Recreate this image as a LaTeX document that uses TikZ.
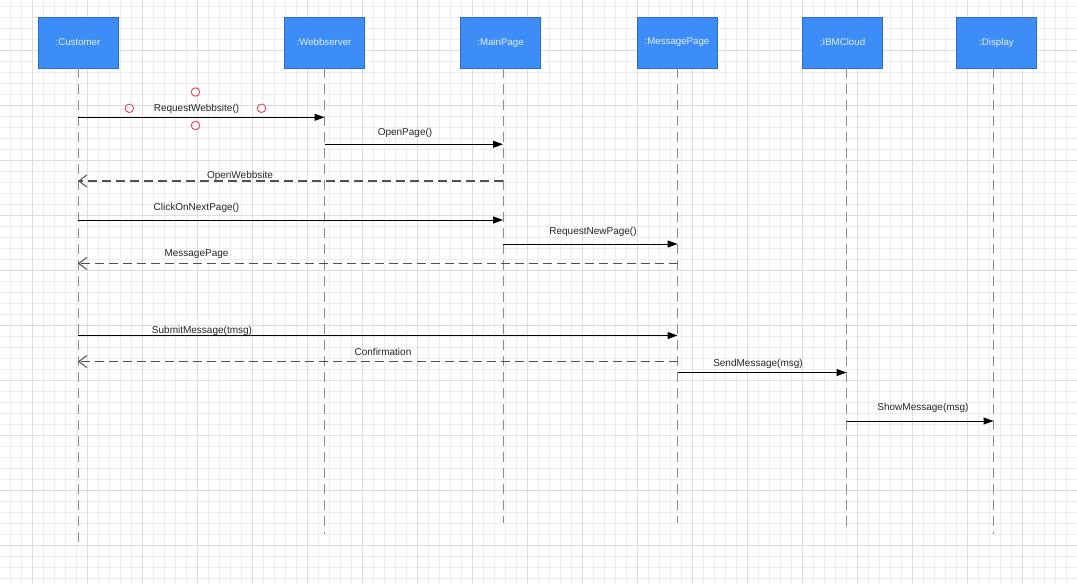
\documentclass[tikz,border=0pt]{standalone}
\usepackage{fontspec}
\setmainfont{Liberation Sans}
\usetikzlibrary{arrows.meta}
\definecolor{boxfill}{HTML}{3C8DF6}
\definecolor{boxedge}{HTML}{2B6BC8}
\definecolor{boxtext}{HTML}{E4EEFC}
\definecolor{gridminor}{HTML}{EDEDED}
\definecolor{gridmajor}{HTML}{DEDEDE}
\definecolor{lifegray}{HTML}{8C8C8C}
\definecolor{retgray}{HTML}{505050}
\definecolor{markred}{HTML}{F23D5A}
\tikzset{
  actor/.style={draw=boxedge, line width=0.8pt, fill=boxfill, minimum width=80pt, minimum height=51pt, inner sep=0pt, text=boxtext, font=\fontsize{9.7}{11}\selectfont},
  lifeline/.style={draw=lifegray, line width=0.9pt, dash pattern=on 10pt off 6pt},
  callmsg/.style={draw=black, line width=1pt, -{Triangle[length=10pt,width=7pt]}},
  retmsg/.style={draw=retgray, line width=1.3pt, dash pattern=on 9pt off 5pt, -{Straight Barb[length=8pt,width=12pt,line width=1pt]}},
  msglabel/.style={font=\fontsize{10}{12}\selectfont, text=black!85, inner sep=0pt},
  anchormark/.style={circle, draw=markred, line width=0.9pt, fill=white, minimum size=8.5pt, inner sep=0pt}
}
\begin{document}
\begin{tikzpicture}[x=1pt,y=-1pt]
\useasboundingbox (0,0) rectangle (1077,584);
\fill[white] (0,0) rectangle (1077,584);
% grid
\foreach \gx in {10,21,...,1077} \draw[gridminor, line width=0.8pt] (\gx,0) -- (\gx,584);
\foreach \gy in {6,17,...,584} \draw[gridminor, line width=0.8pt] (0,\gy) -- (1077,\gy);
\foreach \gx in {32,87,...,1077} \draw[gridmajor, line width=0.9pt] (\gx,0) -- (\gx,584);
\foreach \gy in {50,105,...,584} \draw[gridmajor, line width=0.9pt] (0,\gy) -- (1077,\gy);

% actors
\node[actor] (cust) at (78,42.5) {:Customer};
\node[actor] (web) at (324,42.5) {:Webbserver};
\node[actor] (main) at (500.5,42.5) {:MainPage};
\node[actor] (msgp) at (677,42.5) {:MessagePage};
\node[actor] (ibm) at (842.5,42.5) {:IBMCloud};
\node[actor] (disp) at (996.5,42.5) {:Display};

% lifeline start and end points
\coordinate (custS) at (78,68);
\coordinate (webS) at (324.5,68);
\coordinate (mainS) at (503,68);
\coordinate (msgpS) at (677.5,68);
\coordinate (ibmS) at (846.5,68);
\coordinate (dispS) at (993.5,68);
\coordinate (custE) at (78,545);
\coordinate (webE) at (324.5,534);
\coordinate (mainE) at (503,523);
\coordinate (msgpE) at (677.5,523);
\coordinate (ibmE) at (846.5,527);
\coordinate (dispE) at (993.5,534);

\draw[lifeline] (custS) -- (custE);
\draw[lifeline] (webS) -- (webE);
\draw[lifeline] (mainS) -- (mainE);
\draw[lifeline] (msgpS) -- (msgpE);
\draw[lifeline] (ibmS) -- (ibmE);
\draw[lifeline] (dispS) -- (dispE);

% message end points
\coordinate (m1a) at (78,117.3);  \coordinate (m1b) at (324.5,117.3);
\coordinate (m2a) at (324.5,144.3); \coordinate (m2b) at (503,144.3);
\coordinate (m3a) at (503,181); \coordinate (m3b) at (78,181);
\coordinate (m4a) at (78,220); \coordinate (m4b) at (503,220);
\coordinate (m5a) at (503,244); \coordinate (m5b) at (677.5,244);
\coordinate (m6a) at (677.5,263.5); \coordinate (m6b) at (78,263.5);
\coordinate (m7a) at (78,335.5); \coordinate (m7b) at (677.5,335.5);
\coordinate (m8a) at (677.5,361.5); \coordinate (m8b) at (78,361.5);
\coordinate (m9a) at (677.5,372.5); \coordinate (m9b) at (846.5,372.5);
\coordinate (m10a) at (846.5,421); \coordinate (m10b) at (993.5,421);

\draw[callmsg] (m1a) -- (m1b);
\draw[callmsg] (m2a) -- (m2b);
\draw[retmsg] (m3a) -- (m3b);
\draw[callmsg] (m4a) -- (m4b);
\draw[callmsg] (m5a) -- (m5b);
\draw[retmsg] (m6a) -- (m6b);
\draw[callmsg] (m7a) -- (m7b);
\draw[retmsg] (m8a) -- (m8b);
\draw[callmsg] (m9a) -- (m9b);
\draw[callmsg] (m10a) -- (m10b);

% labels
\node[msglabel] (l1) at (196.5,109) {RequestWebbsite()};
\node[msglabel] (l2) at (405,132.7) {OpenPage()};
\node[msglabel] (l3) at (240,175.7) {OpenWebbsite};
\node[msglabel] (l4) at (196.5,208.4) {ClickOnNextPage()};
\node[msglabel] (l5) at (593,231.7) {RequestNewPage()};
\node[msglabel] (l6) at (196.5,253.7) {MessagePage};
\node[msglabel] (l7) at (202,330.7) {SubmitMessage(tmsg)};
\node[msglabel] (l8) at (383,352.2) {Confirmation};
\node[msglabel] (l9) at (758,363.7) {SendMessage(msg)};
\node[msglabel] (l10) at (923,407.7) {ShowMessage(msg)};

% selection handles
\node[anchormark] (h1) at (195.5,92) {};
\node[anchormark] (h2) at (129.3,108.3) {};
\node[anchormark] (h3) at (261.5,108.3) {};
\node[anchormark] (h4) at (195.5,125.5) {};
\end{tikzpicture}
\end{document}
